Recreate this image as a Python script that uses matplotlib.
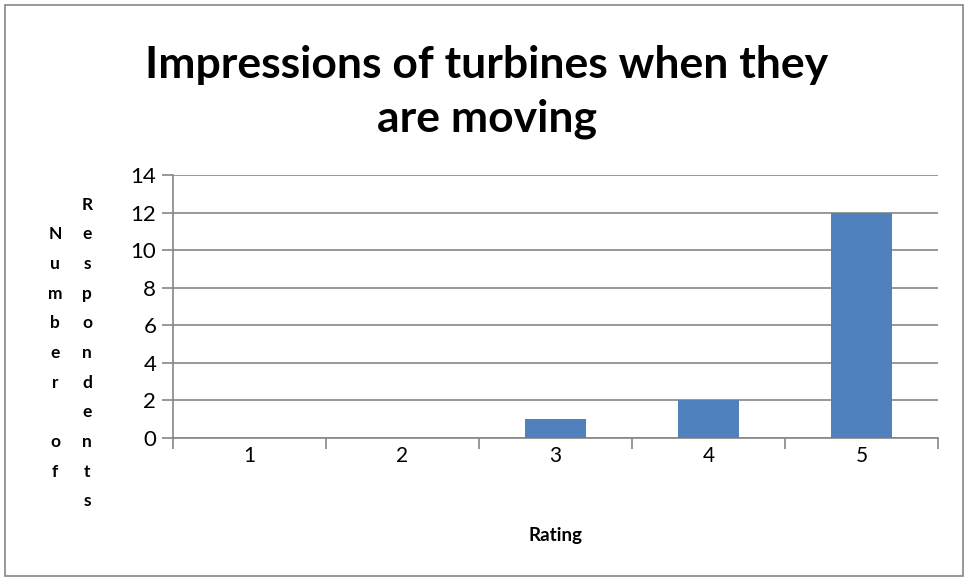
import numpy as np
import matplotlib
matplotlib.use("Agg")
from matplotlib import pyplot as plt
from matplotlib.patches import Rectangle

ratings = ["1", "2", "3", "4", "5"]
respondents = [0, 0, 1, 2, 12]
y_ticks = [0, 2, 4, 6, 8, 10, 12, 14]

plt.rcParams['font.family'] = ['Lato', 'DejaVu Sans']

fig = plt.figure(figsize=(9.67, 5.81), dpi=100)
W, H = 967, 581

# outer chart border
fig.patches.append(Rectangle((5 / W, 5 / H), 958 / W, 571 / H, transform=fig.transFigure,
                             fill=False, edgecolor="#868686", linewidth=1.2))

ax = fig.add_axes([173 / W, (581 - 438) / H, 765 / W, 263 / H])
x = np.arange(len(ratings))
ax.bar(x, respondents, width=0.4, color="#4f81bd", zorder=3)

ax.set_xlim(-0.5, len(ratings) - 0.5)
ax.set_ylim(0, 14)
ax.set_yticks(y_ticks)
ax.yaxis.grid(True, color="#868686", linewidth=1.2, zorder=0)

# category labels in the middle, ticks on the boundaries
ax.set_xticks(x)
ax.set_xticklabels(ratings, fontsize=15)
ax.set_xticks(np.arange(-0.5, len(ratings)), minor=True)
ax.tick_params(axis="x", which="major", length=0, pad=6)
ax.tick_params(axis="x", which="minor", length=8, width=1.2, color="#868686")
ax.tick_params(axis="y", length=8, width=1.2, color="#868686", labelsize=16, pad=4)

for side in ["top", "right"]:
    ax.spines[side].set_visible(False)
for side in ["left", "bottom"]:
    ax.spines[side].set_color("#868686")
    ax.spines[side].set_linewidth(1.2)

fig.text(487 / W, 1 - 92 / H, "Impressions of turbines when they\nare moving",
         ha="center", va="center", fontsize=32, fontweight="bold", linespacing=1.4)

fig.text(556 / W, 1 - 535 / H, "Rating", ha="center", va="center",
         fontsize=13.5, fontweight="bold")

# stacked y label as in the original
fig.text(55 / W, 1 - 353 / H, "N\nu\nm\nb\ne\nr\n\no\nf", ha="center", va="center",
         fontsize=12.5, fontweight="bold", linespacing=2.05)
fig.text(87 / W, 1 - 353 / H, "R\ne\ns\np\no\nn\nd\ne\nn\nt\ns", ha="center", va="center",
         fontsize=12.5, fontweight="bold", linespacing=2.05)

fig.savefig("out.png", dpi=100)
